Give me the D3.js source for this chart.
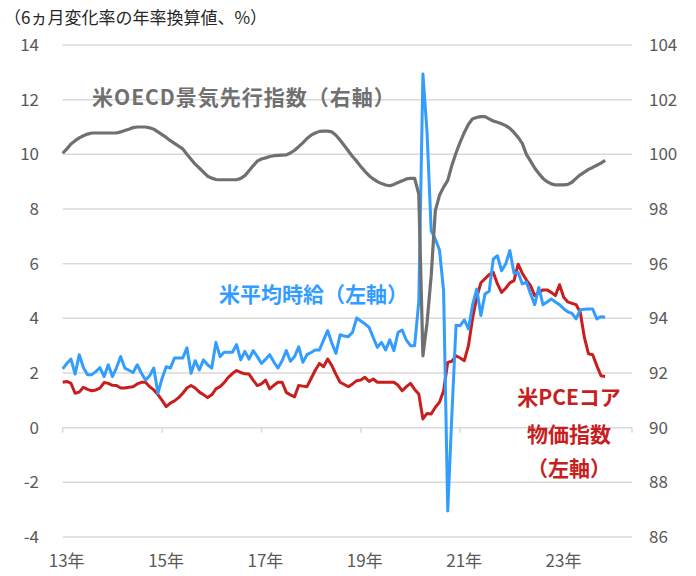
<!DOCTYPE html>
<html><head><meta charset="utf-8">
<script src="https://cdn.jsdelivr.net/npm/d3@7"></script>
<style>
html,body{margin:0;padding:0;background:#fff;}
svg text{font-family:"Noto Sans CJK JP","Noto Sans",sans-serif;}
</style></head>
<body><svg id="c" width="696" height="576"></svg>
<script>
// Monthly data, Jan 2013 – Dec 2023
const startYear = 2013;
const wages = [2.15,2.35,2.51,1.96,2.67,2.2,1.94,1.94,2.05,2.2,1.87,2.3,1.87,2.2,2.6,2.18,2.1,2.02,2.3,2.0,1.74,1.9,2.18,1.26,1.8,2.23,2.18,2.55,2.55,2.55,2.92,1.99,2.45,2.11,2.48,2.3,2.18,3.12,2.6,2.76,2.76,2.76,3.04,2.48,2.79,2.51,2.82,2.6,2.35,2.5,2.67,2.4,2.18,2.45,2.82,2.43,2.6,2.96,2.39,2.67,2.75,2.84,2.84,3.2,3.55,3.1,2.72,3.4,3.35,3.33,3.49,4.01,3.9,3.8,3.67,3.3,2.94,3.12,2.84,3.21,2.82,3.49,3.57,3.2,3.0,3.0,4.6,12.94,10.8,7.2,6.9,6.5,5.0,-3.05,0.5,3.75,3.73,3.94,3.61,4.5,5.07,4.1,4.89,4.99,6.17,6.29,5.74,5.99,6.48,5.65,5.68,5.26,5.32,4.9,4.5,5.13,4.5,4.6,4.71,4.6,4.5,4.35,4.24,4.18,3.98,4.31,4.33,4.34,4.34,3.98,4.06,4.04];
const pceCore = [1.66,1.69,1.62,1.26,1.3,1.48,1.4,1.35,1.38,1.45,1.65,1.62,1.55,1.54,1.45,1.45,1.48,1.5,1.6,1.66,1.66,1.5,1.38,1.21,1.0,0.77,0.9,0.98,1.1,1.26,1.45,1.54,1.45,1.3,1.21,1.1,1.2,1.42,1.5,1.65,1.84,1.98,2.09,2.02,1.97,1.96,1.74,1.54,1.6,1.74,1.42,1.55,1.66,1.66,1.29,1.2,1.13,1.54,1.52,1.5,1.8,2.1,2.35,2.23,2.51,2.27,1.95,1.66,1.58,1.5,1.6,1.72,1.74,1.84,1.69,1.78,1.66,1.66,1.66,1.66,1.66,1.55,1.35,1.5,1.62,1.4,1.23,0.32,0.52,0.5,0.75,0.93,1.35,2.39,2.43,2.63,2.55,2.45,3.0,4.0,4.77,5.3,5.45,5.6,5.68,5.26,4.95,5.1,5.3,5.38,5.98,5.65,5.4,5.2,4.83,4.95,5.04,5.04,4.95,4.83,5.23,4.77,4.6,4.55,4.5,4.22,3.3,2.7,2.67,2.27,1.9,1.87];
const oecdCli = [100.04,100.2,100.38,100.5,100.6,100.68,100.74,100.78,100.78,100.78,100.78,100.78,100.78,100.78,100.82,100.87,100.92,100.98,101.0,101.0,101.0,100.97,100.92,100.82,100.72,100.62,100.5,100.4,100.3,100.2,100.0,99.82,99.64,99.5,99.35,99.2,99.13,99.08,99.07,99.07,99.07,99.07,99.07,99.12,99.22,99.4,99.58,99.75,99.83,99.87,99.92,99.95,99.96,99.97,99.98,100.05,100.15,100.28,100.42,100.58,100.7,100.78,100.84,100.85,100.85,100.82,100.7,100.52,100.32,100.12,99.92,99.75,99.55,99.38,99.22,99.1,99.0,98.93,98.88,98.85,98.9,98.97,99.03,99.1,99.12,99.12,98.55,92.63,93.84,95.56,97.94,98.5,98.8,99.05,99.6,100.05,100.45,100.8,101.1,101.3,101.35,101.38,101.38,101.3,101.22,101.17,101.12,101.05,100.95,100.8,100.62,100.4,100.0,99.75,99.5,99.3,99.12,99.0,98.92,98.88,98.88,98.88,98.9,98.98,99.12,99.25,99.35,99.45,99.52,99.6,99.68,99.78];
const leftTicks = [-4,-2,0,2,4,6,8,10,12,14];
const rightTicks = [86,88,90,92,94,96,98,100,102,104];
const xTickLabels = ["13年","15年","17年","19年","21年","23年"];
const nCategories = 138; // category axis runs to mid-2024

const svg = d3.select("#c");
const x = d3.scaleLinear().domain([0, nCategories - 0.5]).range([62.7, 632]);
const yL = d3.scaleLinear().domain([-4, 14]).range([537, 45]);
const yR = d3.scaleLinear().domain([86, 104]).range([537, 45]);

// gridlines
svg.append("g").selectAll("line").data(leftTicks).join("line")
  .attr("x1", x(0)).attr("x2", x(nCategories - 0.5))
  .attr("y1", d => yL(d)).attr("y2", d => yL(d))
  .attr("stroke", "#d9d9d9").attr("stroke-width", 1.5);

// category axis at zero with tick marks every 2 years
const tickIdx = xTickLabels.map((_, i) => i * 24);
svg.append("g").selectAll("line").data(tickIdx.concat([nCategories - 0.5])).join("line")
  .attr("x1", d => x(d)).attr("x2", d => x(d))
  .attr("y1", yL(0)).attr("y2", yL(0) + 5)
  .attr("stroke", "#d9d9d9").attr("stroke-width", 1.5);

// axis labels
svg.append("g").selectAll("text").data(leftTicks).join("text")
  .attr("x", 39).attr("y", d => yL(d)).attr("dy", "0.35em")
  .attr("text-anchor", "end").attr("fill", "#595959").attr("font-size", 17)
  .text(d => d);
svg.append("g").selectAll("text").data(rightTicks).join("text")
  .attr("x", 649).attr("y", d => yR(d)).attr("dy", "0.35em")
  .attr("text-anchor", "start").attr("fill", "#595959").attr("font-size", 17)
  .text(d => d);
svg.append("g").selectAll("text").data(xTickLabels).join("text")
  .attr("x", (d, i) => x(tickIdx[i]) + 4).attr("y", 561).attr("dy", "0.35em")
  .attr("text-anchor", "middle").attr("fill", "#595959").attr("font-size", 17)
  .text(d => d);

// title
svg.append("text").attr("x", 4).attr("y", 18).attr("dy", "0.35em")
  .attr("fill", "#262626").attr("font-size", 17)
  .text("（6ヵ月変化率の年率換算値、%）");

// lines
const lineL = d3.line().x((d, i) => x(i)).y(d => yL(d)).curve(d3.curveLinear);
const lineR = d3.line().x((d, i) => x(i)).y(d => yR(d)).curve(d3.curveLinear);
svg.append("path").datum(pceCore).attr("d", lineL)
  .attr("fill", "none").attr("stroke", "#c81e1e").attr("stroke-width", 3).attr("stroke-linejoin", "round");
svg.append("path").datum(wages).attr("d", lineL)
  .attr("fill", "none").attr("stroke", "#339dff").attr("stroke-width", 3).attr("stroke-linejoin", "round");
svg.append("path").datum(oecdCli).attr("d", lineR)
  .attr("fill", "none").attr("stroke", "#707070").attr("stroke-width", 3.2).attr("stroke-linejoin", "round");

// series labels
function lab(t, xx, yy, col, anchor, ls) {
  svg.append("text").attr("x", xx).attr("y", yy).attr("dy", "0.35em")
    .attr("text-anchor", anchor || "start").attr("fill", col)
    .attr("letter-spacing", ls || 0)
    .attr("font-size", 21).attr("font-weight", "bold").text(t);
}
lab("米OECD景気先行指数（右軸）", 92, 98, "#707070", "start", 1);
lab("米平均時給（左軸）", 219, 295, "#339dff");
lab("米PCEコア", 569, 398, "#c81e1e", "middle");
lab("物価指数", 569, 435, "#c81e1e", "middle");
lab("（左軸）", 569, 469, "#c81e1e", "middle");
</script></body></html>
